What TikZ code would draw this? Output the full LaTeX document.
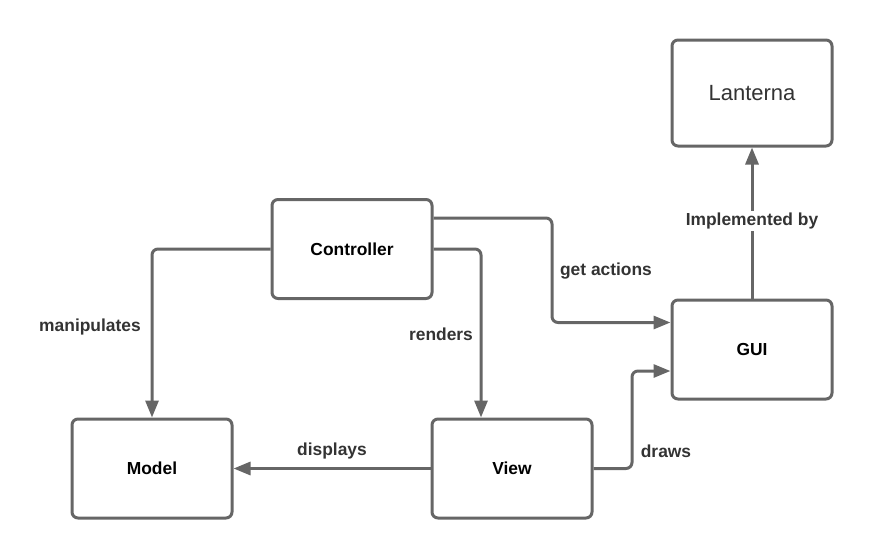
\documentclass[tikz,border=0pt]{standalone}
\usepackage{fontspec}
\setmainfont{Liberation Sans}
\usetikzlibrary{arrows.meta,calc}
\definecolor{linegray}{HTML}{666666}
\definecolor{textgray}{HTML}{333333}
\tikzset{
  box/.style={draw=linegray, line width=3pt, rounded corners=6pt,
    minimum width=160pt, minimum height=99pt, inner sep=0pt,
    font=\fontsize{17.4}{20}\selectfont\bfseries, text=black},
  link/.style={draw=linegray, line width=3pt, rounded corners=6pt,
    -{Triangle[length=17pt,width=13pt]}},
  tag/.style={font=\fontsize{17.4}{20}\selectfont\bfseries, text=textgray, inner sep=2pt}
}
\begin{document}
\begin{tikzpicture}[x=1pt,y=-1pt]
  \useasboundingbox (0,0) rectangle (872,558);
  \node[box, minimum height=106pt, font=\fontsize{22}{26}\selectfont, text=textgray] (lanterna) at (752,93) {Lanterna};
  \node[box] (controller) at (352,249) {Controller};
  \node[box] (gui) at (752,349.5) {GUI};
  \node[box] (model) at (152,468.5) {Model};
  \node[box] (view) at (512,468.5) {View};
  \coordinate (ctrlout) at ([yshift=31pt]controller.east);
  \coordinate (guiin) at ([yshift=27pt]gui.west);
  \coordinate (viewin) at ([xshift=-31pt]view.north);
  \coordinate (guidraw) at ([yshift=-21.5pt]gui.west);
  \begin{scope}
    \draw[link] (controller.west) -| (model.north);
    \draw[link] (controller.east) -| (viewin);
    \draw[link] (ctrlout) -| ($(ctrlout)!.5!(guiin)$) |- (guiin);
    \draw[link] (view.west) -- (model.east);
    \draw[link] (view.east) -| ($(view.east)!.5!(guidraw)$) |- (guidraw);
    \draw[link] (gui.north) -- (lanterna.south);
  \end{scope}
  \node[tag] (manip) at (90,327) {manipulates};
  \node[tag] (rend) at (441,334) {renders};
  \node[tag] (getact) at (606,271) {get actions};
  \node[tag] (disp) at (332,451) {displays};
  \node[tag] (draw) at (666,451) {draws};
  \node[tag, fill=white] (impl) at (752,221) {Implemented by};
\end{tikzpicture}
\end{document}
